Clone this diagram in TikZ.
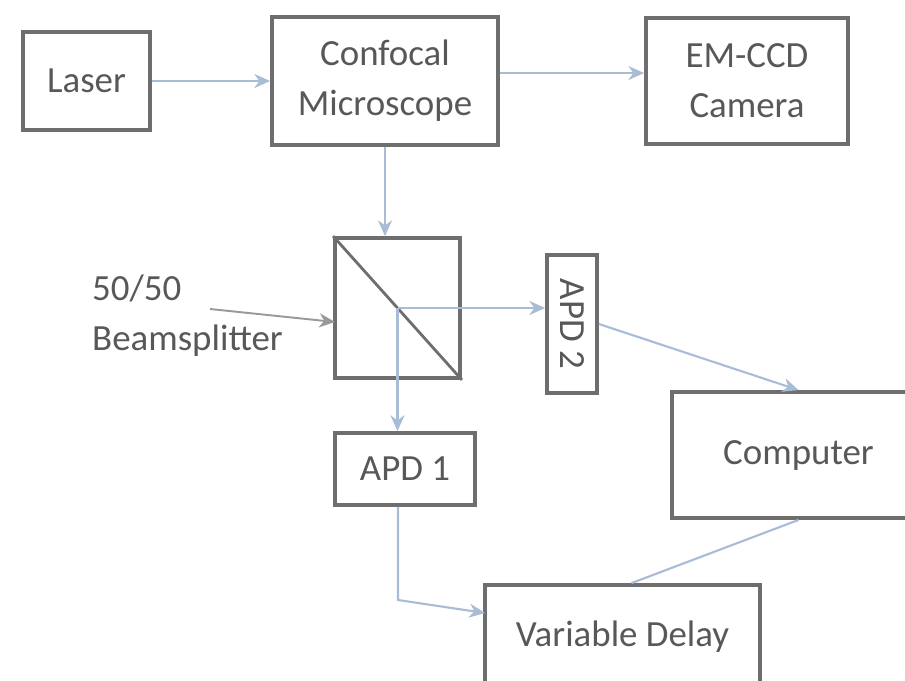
\documentclass[tikz,border=0pt]{standalone}
\usepackage{fontspec}
\setmainfont{Carlito}
\usetikzlibrary{arrows.meta}

\definecolor{boxgray}{HTML}{6E6E6E}
\definecolor{txtgray}{HTML}{585858}
\definecolor{beamblue}{HTML}{A9BCD6}

\tikzset{
  unit/.style={draw=boxgray, line width=2.2pt, text=txtgray, align=center,
    inner sep=0pt, font=\fontsize{21}{28.5}\selectfont},
  beam/.style={draw=beamblue, line width=1.2pt, -{Stealth[length=9pt,width=8pt]}},
  pointer/.style={draw=gray!80, line width=1.1pt, -{Stealth[length=9pt,width=8pt]}},
}

\begin{document}
\begin{tikzpicture}[x=0.02cm,y=-0.02cm]
\clip (0,0) rectangle (905,680);

% top row
\node[unit, minimum width=2.54cm, minimum height=1.96cm] (laser) at (86.5,81) {Laser};
\node[unit, minimum width=4.52cm, minimum height=2.56cm] (confocal) at (385,81) {Confocal\\Microscope};
\node[unit, minimum width=4.04cm, minimum height=2.52cm] (emccd) at (747,81) {EM-CCD\\Camera};

% beamsplitter cube
\node[unit, minimum width=2.5cm, minimum height=2.8cm] (bs) at (397.5,308) {};
\draw[boxgray, line width=1.6pt] (bs.north west) -- (bs.south east);
\node[text=txtgray, align=left, anchor=west, font=\fontsize{21}{28.5}\selectfont] (bslabel) at (86,316) {50/50\\Beamsplitter};
\coordinate (ptr) at (210,309);
\coordinate (bsin) at (335,322);

% detectors
\node[unit, minimum width=1.0cm, minimum height=2.76cm] (apdtwo) at (572,324) {\rotatebox{-90}{APD 2}};
\node[unit, minimum width=2.8cm, minimum height=1.44cm] (apdone) at (405,469) {APD 1};
\node[unit, minimum width=5.06cm, minimum height=2.52cm] (computer) at (798.5,455) {Computer};
\node[unit, minimum width=5.5cm, minimum height=2.08cm] (delay) at (622.5,637) {Variable Delay};
\coordinate (bend) at (398,600);
\coordinate (delayin) at (485,613);

% beams and signals
\draw[beam] (laser.east) -- (confocal.west);
\draw[beam] ([yshift=0.16cm]confocal.east) -- ([yshift=0.16cm]emccd.west);
\draw[beam] (confocal.south) -- (confocal.south |- bs.north);
\draw[beam] (bs.center) -- (bs.center -| apdtwo.west);
\draw[beam] (bs.center) -- (bs.center |- apdone.north);
\draw[pointer] (ptr) -- (bsin);
\draw[beam] (apdtwo.east) -- (computer.north);
\draw[beam] (bend |- apdone.south) -- (bend) -- (delayin);
\draw[draw=beamblue, line width=1.2pt] (computer.south) -- ([xshift=0.18cm]delay.north);

\end{tikzpicture}
\end{document}
